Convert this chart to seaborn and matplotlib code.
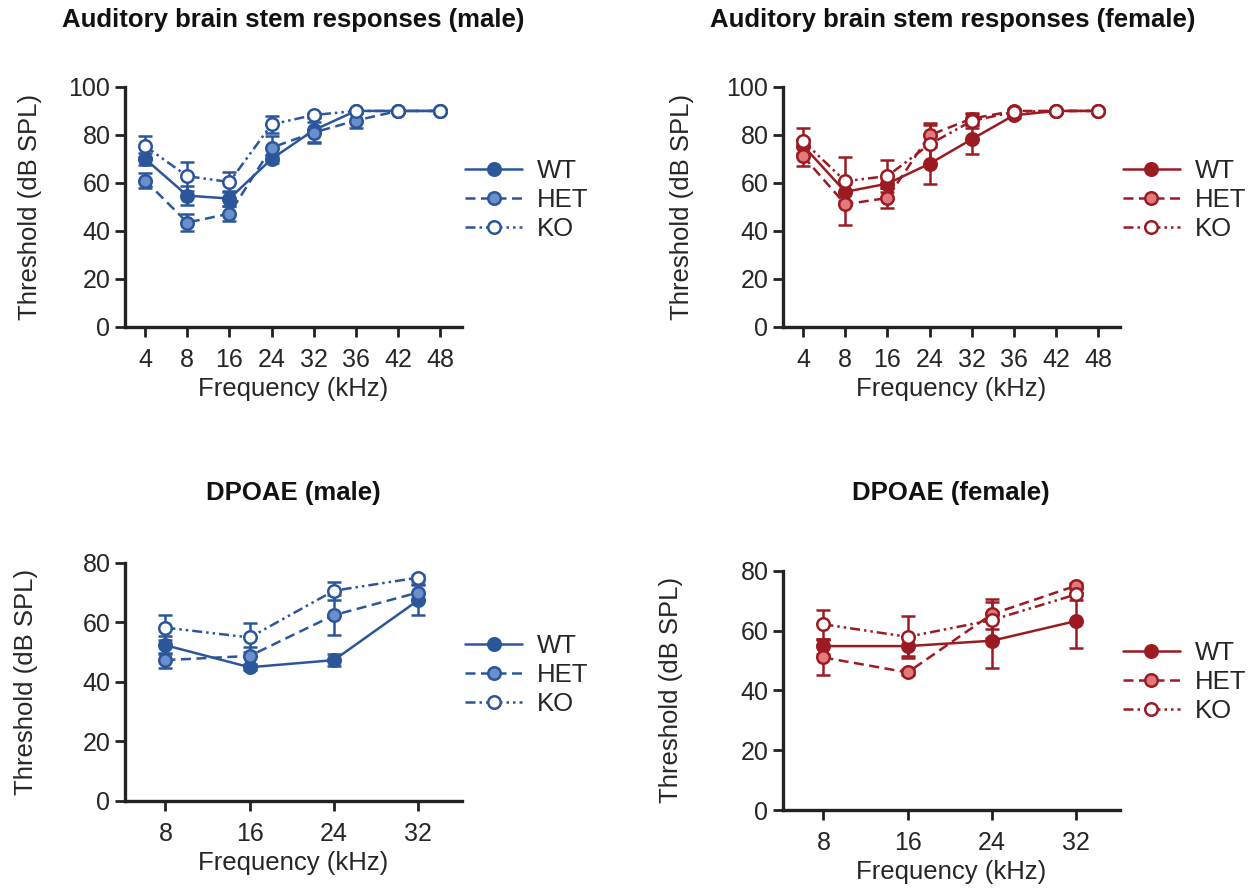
import matplotlib
matplotlib.use("Agg")
import matplotlib.pyplot as plt
import seaborn as sns

sns.set_style("ticks")
plt.rcParams["font.family"] = ["Liberation Sans", "DejaVu Sans"]

# --- data (mean threshold, SEM) ---
abr_freqs = ["4", "8", "16", "24", "32", "36", "42", "48"]
dp_freqs = ["8", "16", "24", "32"]
groups = ["WT", "HET", "KO"]

abr_male_wt = [70, 54.7, 53.5, 70, 82, 90, 90, 90]
abr_male_wt_sem = [2.5, 4, 3, 1.5, 5, 0.5, 0, 0]
abr_male_het = [61, 43.5, 47.2, 74.7, 81, 86, 90, 90]
abr_male_het_sem = [3, 3.5, 3, 5, 4.5, 3, 0, 0]
abr_male_ko = [75.3, 62.8, 60.4, 84.4, 88.3, 90, 90, 90]
abr_male_ko_sem = [4.3, 6, 4.2, 3.5, 1, 0, 0, 0]

abr_female_wt = [75.5, 56.3, 59.7, 68, 78.2, 88.2, 90, 90]
abr_female_wt_sem = [3, 4, 2, 8.3, 6, 1, 0, 0]
abr_female_het = [71.1, 51.1, 53.75, 79.9, 86.8, 90, 90, 90]
abr_female_het_sem = [4, 8.5, 4, 5, 2.5, 0.5, 0, 0]
abr_female_ko = [77.4, 60.7, 62.9, 76.1, 85.8, 89.6, 90, 90]
abr_female_ko_sem = [5.6, 10, 6.8, 8, 3, 1, 0, 0]

dp_male_wt = [52.3, 44.9, 47.3, 67.4]
dp_male_wt_sem = [3, 1, 2, 5]
dp_male_het = [47.3, 48.7, 62.4, 70]
dp_male_het_sem = [2.5, 3, 6.7, 3]
dp_male_ko = [58.2, 54.9, 70.6, 75]
dp_male_ko_sem = [4.2, 5, 3, 1]

dp_female_wt = [54.8, 54.8, 56.6, 63.2]
dp_female_wt_sem = [2.5, 3.2, 9.2, 9.2]
dp_female_het = [51, 46, 65.5, 75]
dp_female_het_sem = [6, 1, 5, 1]
dp_female_ko = [62.1, 57.9, 63.5, 72.1]
dp_female_ko_sem = [4.8, 7, 6, 2]

blue = "#2b5699"
blue_light = "#6b8fcc"
red = "#9c1b22"
red_light = "#e07a7e"

styles = {
    "WT": "-",
    "HET": (0, (4, 2.2)),
    "KO": (0, (4, 1.6, 1, 1.6, 1, 1.6)),
}


def draw_panel(ax, freqs, series, sems, color, light, ymax, ylab_x, leg_y):
    xs = list(range(len(freqs)))
    faces = {"WT": color, "HET": light, "KO": "white"}
    for g, vals, err in zip(groups, series, sems):
        ax.errorbar(xs, vals, yerr=err, fmt="none", ecolor=color,
                    elinewidth=1.8, capsize=5, capthick=1.8, clip_on=False, zorder=2)
        sns.lineplot(x=xs, y=vals, ax=ax, color=color, linestyle=styles[g],
                     linewidth=1.8, marker="o", markersize=9,
                     markerfacecolor=faces[g], markeredgecolor=color,
                     markeredgewidth=1.8, label=g, clip_on=False, zorder=3)
    ax.set_xlim(-0.48, len(freqs) - 0.48)
    ax.set_ylim(0, ymax)
    ax.set_yticks(range(0, ymax + 1, 20))
    ax.set_xticks(xs)
    ax.set_xticklabels(freqs)
    ax.tick_params(labelsize=18, width=2, length=7, color="#222222")
    ax.tick_params(axis="x", pad=8)
    for s in ["left", "bottom"]:
        ax.spines[s].set_linewidth(2.4)
        ax.spines[s].set_color("#222222")
    sns.despine(ax=ax)
    ax.set_xlabel("Frequency (kHz)", fontsize=18.5, labelpad=4)
    ax.set_ylabel("Threshold (dB SPL)", fontsize=18.5)
    ax.yaxis.set_label_coords(ylab_x, 0.5)
    ax.legend(loc="center left", bbox_to_anchor=(1.0, leg_y), frameon=False,
              fontsize=18.5, handlelength=2.25, handletextpad=0.55,
              labelspacing=0.2, borderpad=0, borderaxespad=0.1, numpoints=1)


fig = plt.figure(figsize=(12.6, 8.88), dpi=100)

ax1 = fig.add_axes([0.0992, 0.6318, 0.2675, 0.2703])
ax2 = fig.add_axes([0.6214, 0.6318, 0.2675, 0.2703])
ax3 = fig.add_axes([0.0992, 0.0980, 0.2675, 0.2683])
ax4 = fig.add_axes([0.6214, 0.0878, 0.2675, 0.2695])

draw_panel(ax1, abr_freqs, [abr_male_wt, abr_male_het, abr_male_ko],
           [abr_male_wt_sem, abr_male_het_sem, abr_male_ko_sem],
           blue, blue_light, 100, -0.246, 0.53)
draw_panel(ax2, abr_freqs, [abr_female_wt, abr_female_het, abr_female_ko],
           [abr_female_wt_sem, abr_female_het_sem, abr_female_ko_sem],
           red, red_light, 100, -0.264, 0.53)
draw_panel(ax3, dp_freqs, [dp_male_wt, dp_male_het, dp_male_ko],
           [dp_male_wt_sem, dp_male_het_sem, dp_male_ko_sem],
           blue, blue_light, 80, -0.258, 0.528)
draw_panel(ax4, dp_freqs, [dp_female_wt, dp_female_het, dp_female_ko],
           [dp_female_wt_sem, dp_female_het_sem, dp_female_ko_sem],
           red, red_light, 80, -0.297, 0.535)

title_kw = dict(fontsize=18.5, fontweight="bold", ha="center", va="center", color="#111111")
fig.text(0.2330, 0.9775, "Auditory brain stem responses (male)", **title_kw)
fig.text(0.7560, 0.9775, "Auditory brain stem responses (female)", **title_kw)
fig.text(0.2330, 0.4448, "DPOAE (male)", **title_kw)
fig.text(0.7550, 0.4448, "DPOAE (female)", **title_kw)

fig.savefig("out.png", dpi=100)
